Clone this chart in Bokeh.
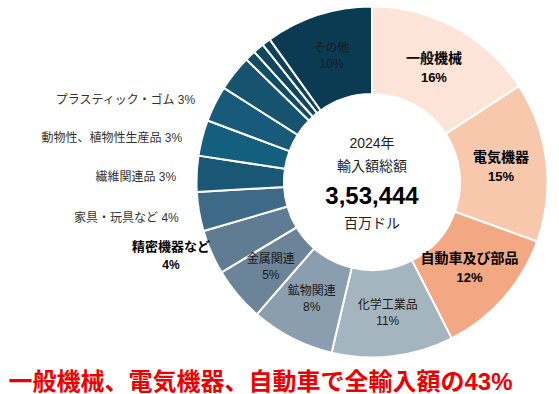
import numpy as np
from bokeh.plotting import figure
from bokeh.models import ColumnDataSource, Range1d
from bokeh.core.properties import value
from bokeh.embed import file_html
from bokeh.resources import INLINE

# ---------------- data ----------------
categories = ["一般機械", "電気機器", "自動車及び部品", "化学工業品", "鉱物関連", "金属関連",
              "精密機器など", "家具・玩具など", "繊維関連品", "動物性、植物性生産品",
              "プラスティック・ゴム", "", "", "", "", "その他"]
shares = [15.8, 14.7, 12.0, 11.2, 7.7, 5.0, 4.1, 3.6, 3.3, 3.3, 3.3, 3.3, 1.0, 1.0, 0.8, 9.9]
pct_labels = ["16%", "15%", "12%", "11%", "8%", "5%", "4%", "4%", "3%", "3%", "3%",
              "", "", "", "", "10%"]
center_lines = ["2024年", "輸入額総額", "3,53,444", "百万ドル"]
headline = "一般機械、電気機器、自動車で全輸入額の43%"

# ---------------- styles ----------------
colors = ["#FCE4D9", "#F8C8AC", "#F2A983", "#A5B5C0", "#8A9EAF", "#6C8497", "#5F7C92",
          "#3E6A88", "#1A5775", "#155F7E", "#175A79", "#15536F", "#124C67", "#10475F",
          "#0E4259", "#0B3B53"]
label_mode = ["in_bold", "in_bold", "in_bold", "in", "in", "in", "out2", "out", "out", "out",
              "out", "none", "none", "none", "none", "in"]
FONT = "'Liberation Sans', 'Noto Sans CJK JP', sans-serif"

W, H = 559, 394


def X(xi):
    return xi


def Y(yi):
    return H - yi


cx, cy = X(371.5), Y(181.5)
R_OUT, R_IN = 175.5, 88

p = figure(width=W, height=H, x_range=Range1d(0, W), y_range=Range1d(0, H),
           output_backend="svg", toolbar_location=None, min_border=0)
p.axis.visible = False
p.grid.visible = False
p.outline_line_color = None

frac = np.array(shares) / np.sum(shares)
cum = np.concatenate([[0.0], np.cumsum(frac)])
th0 = cum[:-1] * 2 * np.pi
th1 = cum[1:] * 2 * np.pi
mid = (th0 + th1) / 2

src = ColumnDataSource(dict(start=np.pi / 2 - th0, end=np.pi / 2 - th1, color=colors,
                            name=categories))
p.annular_wedge(x=cx, y=cy, inner_radius=R_IN, outer_radius=R_OUT,
                start_angle="start", end_angle="end", direction="clock",
                fill_color="color", line_color="white", line_width=2, source=src)


def txt(x, y, t, size, bold=False, color="#1a1a1a", align="center"):
    p.text(x=[x], y=[y], text=[t], text_font=value(FONT), text_font_size=f"{size}px",
           text_font_style="bold" if bold else "normal", text_color=color,
           text_align=align, text_baseline="middle")


for i, mode in enumerate(label_mode):
    if mode == "none":
        continue
    s, c = np.sin(mid[i]), np.cos(mid[i])
    if mode == "in_bold":
        r = 130
        x, y = cx + r * s, cy + r * c
        txt(x, y + 10, categories[i], 14, True, "#000000")
        txt(x, y - 10, pct_labels[i], 13, True, "#000000")
    elif mode == "in":
        r = 132
        x, y = cx + r * s, cy + r * c
        txt(x, y + 8, categories[i], 12, False, "#1a1a1a")
        txt(x, y - 8, pct_labels[i], 12, False, "#1a1a1a")
    elif mode == "out":
        r = 192
        x, y = cx + r * s, cy + r * c
        txt(x - 4, y - 4, categories[i] + " " + pct_labels[i], 12, False, "#333333", "right")
    elif mode == "out2":
        r = 192
        x, y = cx + r * s, cy + r * c
        txt(x - 25, y + 12, categories[i], 13, True, "#000000")
        txt(x - 25, y - 6, pct_labels[i], 12, True, "#000000")

# centre text
txt(cx, Y(142), center_lines[0], 14, False, "#222222")
txt(cx, Y(165), center_lines[1], 14, False, "#222222")
txt(cx, Y(195), center_lines[2], 24, True, "#000000")
txt(cx, Y(222), center_lines[3], 14, False, "#222222")

# headline
p.text(x=[X(8)], y=[Y(381)], text=[headline], text_font=value(FONT), text_font_size="24px",
       text_font_style="bold", text_color="#EE0000", text_align="left", text_baseline="middle")

open("out.html", "w").write(file_html(p, INLINE))
